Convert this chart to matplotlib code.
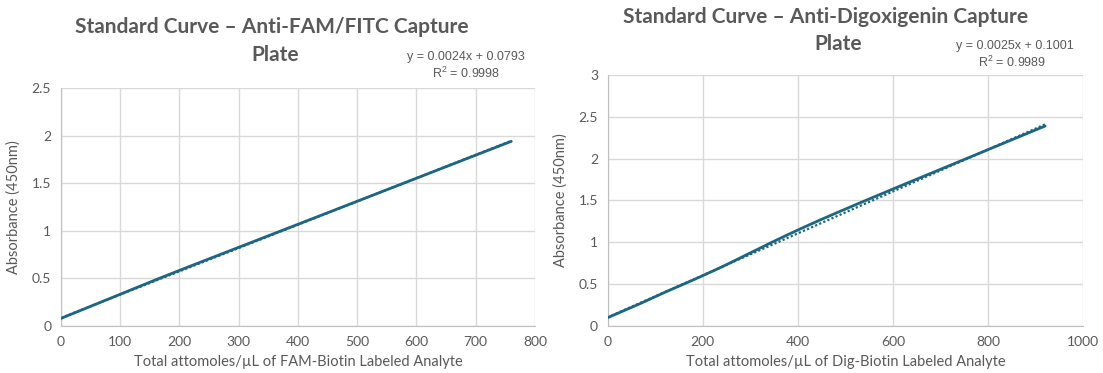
import numpy as np
import matplotlib
matplotlib.use("Agg")
import matplotlib.pyplot as plt

# left panel: anti-FAM/FITC capture plate
fam_x = [0, 11.875, 23.75, 47.5, 95, 190, 380, 760]
fam_y = [0.08, 0.11, 0.14, 0.20, 0.32, 0.56, 1.02, 1.94]
fam_fit = [0.0024, 0.0793]
fam_r2 = "0.9998"

# right panel: anti-digoxigenin capture plate
dig_x = [0, 28.75, 57.5, 115, 230, 460, 920]
dig_y = [0.10, 0.17, 0.24, 0.39, 0.68, 1.30, 2.39]
dig_fit = [0.0025, 0.1001]
dig_r2 = "0.9989"

line_col = "#1d6682"
txt_col = "#595959"
grid_col = "#d9d9d9"

plt.rcParams['font.family'] = ['Lato', 'DejaVu Sans']
plt.rcParams['mathtext.default'] = 'regular'


def smooth(x, y, n=30):
    # catmull-rom style smoothing like excel "smoothed line"
    x = np.asarray(x, float)
    y = np.asarray(y, float)
    px = np.concatenate([[2*x[0]-x[1]], x, [2*x[-1]-x[-2]]])
    py = np.concatenate([[2*y[0]-y[1]], y, [2*y[-1]-y[-2]]])
    xs, ys = [], []
    t = np.linspace(0, 1, n)
    for i in range(1, len(px)-2):
        for arr, out in ((px, xs), (py, ys)):
            p0, p1, p2, p3 = arr[i-1], arr[i], arr[i+1], arr[i+2]
            m1 = (p2 - p0) / 6
            m2 = (p3 - p1) / 6
            c1 = p1 + m1
            c2 = p2 - m2
            out.extend((1-t)**3*p1 + 3*(1-t)**2*t*c1 + 3*(1-t)*t**2*c2 + t**3*p2)
    return np.array(xs), np.array(ys)


def panel(ax, x, y, xmax, xstep, ymax, xlabel):
    sx, sy = smooth(x, y)
    ax.plot(sx, sy, color=line_col, lw=2, solid_capstyle='round', zorder=3)
    # linear trendline fitted to the points
    k, b = np.polyfit(x, y, 1)
    tx = np.array([x[0], x[-1]])
    ax.plot(tx, k*tx + b, color=line_col, lw=1.6, ls=(0, (1, 1)), zorder=2)
    ax.set_xlim(0, xmax)
    ax.set_ylim(0, ymax)
    ax.set_xticks(np.arange(0, xmax + 1, xstep))
    ax.set_yticks(np.arange(0, ymax + 0.01, 0.5))
    ax.set_yticklabels([f"{v:g}" for v in np.arange(0, ymax + 0.01, 0.5)])
    ax.grid(True, color=grid_col, lw=1)
    ax.set_axisbelow(True)
    for s in ['top', 'right']:
        ax.spines[s].set_visible(False)
    for s in ['left', 'bottom']:
        ax.spines[s].set_color("#bfbfbf")
    ax.tick_params(length=0, colors=txt_col, labelsize=10, pad=7)
    ax.set_xlabel(xlabel, color=txt_col, fontsize=10.5, labelpad=5)
    ax.set_ylabel("Absorbance (450nm)", color=txt_col, fontsize=10.5, labelpad=8)


fig = plt.figure(figsize=(11.03, 3.73), dpi=100)
ax1 = fig.add_axes([0.0553, 0.126, 0.4297, 0.638])
ax2 = fig.add_axes([0.551, 0.126, 0.431, 0.673])

panel(ax1, fam_x, fam_y, 800, 100, 2.5,
      "Total attomoles/\u00b5L of FAM-Biotin Labeled Analyte")
panel(ax2, dig_x, dig_y, 1000, 200, 3,
      "Total attomoles/\u00b5L of Dig-Biotin Labeled Analyte")

title_kw = dict(color=txt_col, fontsize=15, fontweight='bold', ha='center', va='center')
fig.text(272/1103, 1 - 27/373, "Standard Curve \u2013 Anti-FAM/FITC Capture", **title_kw)
fig.text(275/1103, 1 - 55/373, "Plate", **title_kw)
fig.text(826/1103, 1 - 17/373, "Standard Curve \u2013 Anti-Digoxigenin Capture", **title_kw)
fig.text(838/1103, 1 - 44/373, "Plate", **title_kw)

eq_kw = dict(color=txt_col, fontsize=9, ha='center', va='center',
             family=['Liberation Sans Narrow', 'Liberation Sans', 'DejaVu Sans'])
fig.text(466/1103, 1 - 57/373, f"y = {fam_fit[0]}x + {fam_fit[1]}", **eq_kw)
fig.text(466/1103, 1 - 73/373, f"R$^2$ = {fam_r2}", **eq_kw)
fig.text(1015/1103, 1 - 46/373, f"y = {dig_fit[0]}x + {dig_fit[1]}", **eq_kw)
fig.text(1012/1103, 1 - 62/373, f"R$^2$ = {dig_r2}", **eq_kw)

fig.savefig("out.png", dpi=100)
